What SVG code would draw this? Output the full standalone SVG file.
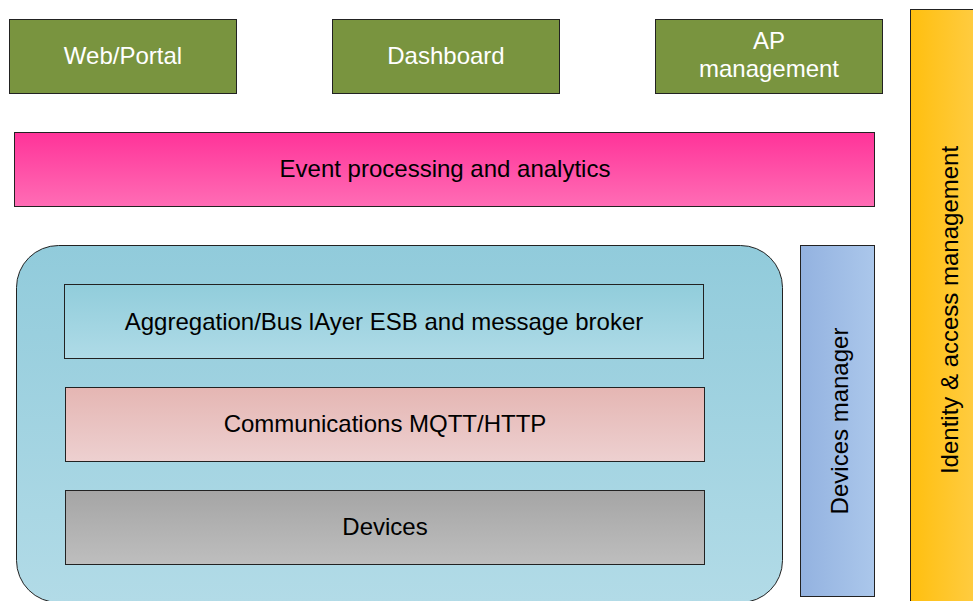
<svg xmlns="http://www.w3.org/2000/svg" width="973" height="601" viewBox="0 0 973 601">
<defs>
<linearGradient id="gPink" x1="0" y1="0" x2="0" y2="1"><stop offset="0" stop-color="#ff3399"/><stop offset="1" stop-color="#ff6db5"/></linearGradient>
<linearGradient id="gOrange" x1="0" y1="0" x2="1" y2="0"><stop offset="0" stop-color="#ffbf0f"/><stop offset="1" stop-color="#ffcd45"/></linearGradient>
<linearGradient id="gBig" x1="0" y1="0" x2="0" y2="1"><stop offset="0" stop-color="#91cbdb"/><stop offset="1" stop-color="#b2dbe7"/></linearGradient>
<linearGradient id="gAgg" x1="0" y1="0" x2="0" y2="1"><stop offset="0" stop-color="#91cddb"/><stop offset="1" stop-color="#afdbe7"/></linearGradient>
<linearGradient id="gComm" x1="0" y1="0" x2="0" y2="1"><stop offset="0" stop-color="#e5b6b3"/><stop offset="1" stop-color="#edd0d0"/></linearGradient>
<linearGradient id="gDev" x1="0" y1="0" x2="0" y2="1"><stop offset="0" stop-color="#a5a5a5"/><stop offset="1" stop-color="#bebebe"/></linearGradient>
<linearGradient id="gBlue" x1="0" y1="0" x2="1" y2="0"><stop offset="0" stop-color="#93b2e0"/><stop offset="1" stop-color="#abc7eb"/></linearGradient>
</defs>
<style>
rect{stroke:#222;stroke-width:1}
.green{fill:#79943f}
text{font-family:"Liberation Sans",Arial,sans-serif;font-size:24px;text-anchor:middle}
.w{fill:#ffffff}
.b{fill:#000000}
</style>
<g id="web-portal"><rect class="green" x="9.5" y="19.5" width="227" height="74"/><text class="w" x="123" y="64">Web/Portal</text></g>
<g id="dashboard"><rect class="green" x="332.5" y="19.5" width="227" height="74"/><text class="w" x="446" y="64">Dashboard</text></g>
<g id="ap-management"><rect class="green" x="655.5" y="19.5" width="227" height="74"/><text class="w" x="769" y="49">AP</text><text class="w" x="769" y="77">management</text></g>
<g id="event-processing"><rect fill="url(#gPink)" x="14.5" y="132.5" width="860" height="74"/><text class="b" x="445" y="177">Event processing and analytics</text></g>
<g id="identity"><rect fill="url(#gOrange)" x="910.5" y="9.5" width="70" height="600"/><text class="b" transform="translate(958,310) rotate(-90)">Identity &amp; access management</text></g>
<g id="core"><rect fill="url(#gBig)" x="16.5" y="245.5" width="766" height="357" rx="42" ry="42"/></g>
<g id="aggregation"><rect fill="url(#gAgg)" x="64.5" y="284.5" width="639" height="74"/><text class="b" x="384" y="330">Aggregation/Bus lAyer ESB and message broker</text></g>
<g id="communications"><rect fill="url(#gComm)" x="65.5" y="387.5" width="639" height="74"/><text class="b" x="385" y="432">Communications MQTT/HTTP</text></g>
<g id="devices"><rect fill="url(#gDev)" x="65.5" y="490.5" width="639" height="74"/><text class="b" x="385" y="535">Devices</text></g>
<g id="devices-manager"><rect fill="url(#gBlue)" x="800.5" y="245.5" width="74" height="351"/><text class="b" transform="translate(848,421) rotate(-90)">Devices manager</text></g>
<g id="connectors"></g>
</svg>
